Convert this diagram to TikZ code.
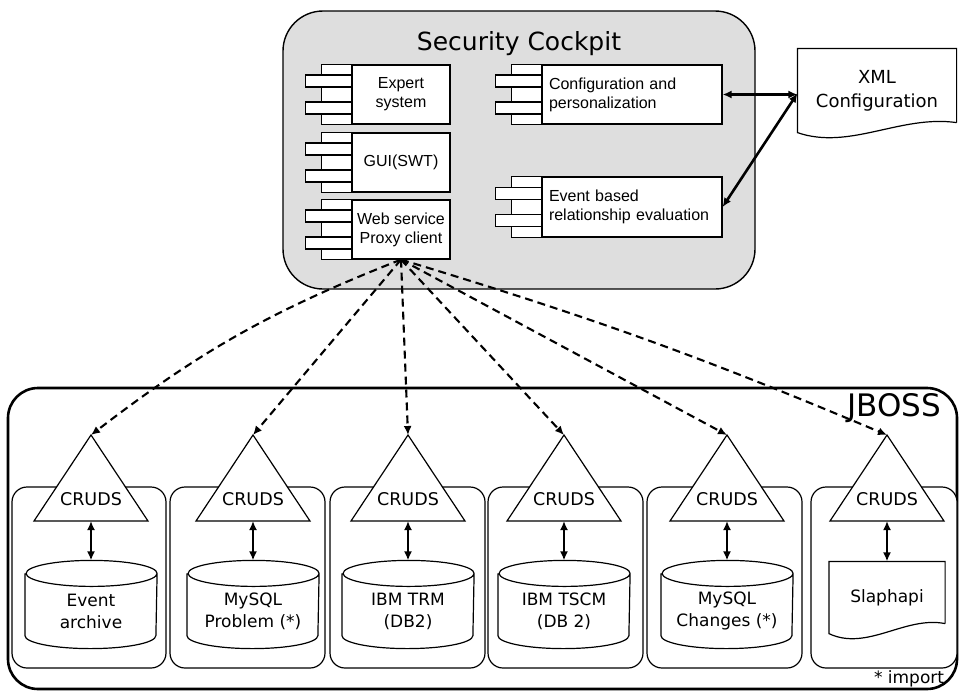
\documentclass[tikz,border=0pt]{standalone}
\usepackage{fontspec}
\setmainfont{DejaVu Sans}
\newfontfamily\arialfont{Liberation Sans}
\usetikzlibrary{calc,arrows.meta}

\definecolor{cockpitgray}{gray}{0.87}

\tikzset{
  box/.style={draw, fill=white, inner sep=3pt, minimum height=59pt,
    font=\arialfont\fontsize{16}{19}\selectfont},
  service/.style={draw, fill=white, rounded corners=15pt, minimum height=181pt},
  store/.style={minimum width=131pt, minimum height=74pt, inner sep=0pt,
    align=center, font=\fontsize{17}{22}\selectfont},
  paper/.style={align=center, inner sep=0pt},
  call/.style={-{Latex[length=9pt,width=8pt]}, line width=2.1pt,
    dash pattern=on 8pt off 5pt},
  link/.style={{Latex[length=9pt,width=8pt]}-{Latex[length=9pt,width=8pt]},
    line width=2.6pt},
}

% component with its two tabs
\newcommand\umlcomp[4][]{%
  \node[box,#1] (#2) at (#3) {#4};
  \draw[fill=white] ($(#2.north west)+(-30,0)$) rectangle (#2.south west);
  \draw[fill=white] ($(#2.west)+(-46,-19.5)$) rectangle ++(46,12);
  \draw[fill=white] ($(#2.west)+(-46,7.5)$) rectangle ++(46,12);
}
% database drum round a store node
\newcommand\drum[1]{%
  \draw (#1.north west) -- ($(#1.south west)+(0,-13)$)
    arc[start angle=180, end angle=360, x radius=65.5pt, y radius=13pt]
    -- (#1.north east)
    arc[start angle=0, end angle=360, x radius=65.5pt, y radius=13pt];
  \coordinate (#1top) at ($(#1.north)+(0,-13)$);
}
% sheet with a wavy lower edge
\newcommand\sheet[3]{%
  \draw ($(#1.south east)+(0,-10)$) -- (#1.north east) -- (#1.north west)
    -- (#1.south west)
    .. controls ($(#1.south west)+(#3,18)$) and ($(#1.south east)+(-#2,-18)$)
    .. ($(#1.south east)+(0,-10)$);
}

\begin{document}
\begin{tikzpicture}[x=1pt, y=-1pt, line width=1.2pt]
\useasboundingbox (0,0) rectangle (961,691);

% Security Cockpit
\node[draw, line width=1.4pt, fill=cockpitgray, rounded corners=40pt,
  minimum width=472pt, minimum height=278pt] (cockpit) at (519,150) {};
\node[font=\fontsize{25}{30}\selectfont] (cockpittitle) at (519,44) {Security Cockpit};

\umlcomp[minimum width=98pt, align=center]{expert}{401,94.5}{Expert\\system}
\umlcomp[minimum width=98pt]{gui}{401,162.5}{GUI(SWT)}
\umlcomp[minimum width=98pt, align=center]{proxy}{401,229.5}{Web service\\Proxy client}
\umlcomp[text width=166pt, inner xsep=7pt, align=left]{config}{632,94.5}{Configuration and\\personalization}
\umlcomp[text width=166pt, inner xsep=7pt, align=left, minimum height=60pt]{event}{632,207}{Event based\\relationship evaluation}

% XML Configuration
\node[paper, minimum width=158pt, minimum height=83pt,
  font=\fontsize{18}{24}\selectfont] (xml) at (877,90.5) {XML\\Configuration};
\sheet{xml}{56}{52}
\coordinate (xmlport) at ($(xml.north west)+(0,45)$);
\draw[link] (config.east) -- (config.east -| xmlport);
\draw[link] (xmlport) -- (event.east);

% JBOSS
\node[draw, line width=2.6pt, rounded corners=30pt,
  minimum width=949pt, minimum height=301pt] (jboss) at (482.5,538.5) {};
\node[font=\fontsize{31}{36}\selectfont, anchor=base east] (jbosstitle) at (945,416) {JBOSS};

\foreach \i/\cx/\bx/\bw in {1/91/89/154, 2/253/247.5/155, 3/408/407.5/155,
    4/564/565.5/155, 5/727/724.5/155, 6/887/884/146}{
  \node[service, minimum width=\bw pt] (srv\i) at (\bx,577.5) {};
  \draw[fill=white] (\cx,435) coordinate (apex\i) -- (\cx+57,521)
    -- (\cx-57,521) -- cycle;
  \node[font=\fontsize{17.5}{20}\selectfont] (cruds\i) at (\cx,499) {CRUDS};
  \coordinate (base\i) at (\cx,521);
}

\node[store] (db1) at (91,611) {Event\\archive};
\node[store] (db2) at (253,611) {MySQL\\Problem (*)};
\node[store] (db3) at (408,611) {IBM TRM\\(DB2)};
\node[store] (db4) at (564,611) {IBM TSCM\\(DB 2)};
\node[store] (db5) at (727,611) {MySQL\\Changes (*)};
\foreach \i in {1,...,5} {\drum{db\i}}

\node[paper, minimum width=115pt, minimum height=71pt,
  font=\fontsize{17}{22}\selectfont] (slap) at (887,597.5) {Slaphapi};
\sheet{slap}{40}{38}
\coordinate (db6top) at (slap.north);

\foreach \i in {1,...,6} {\draw[link] (base\i) -- (db\i top);}

\node[font=\fontsize{17}{20}\selectfont, anchor=base east] (importnote) at (948,683) {* import};

% calls from the proxy client
\draw[call] (proxy.south) to[bend right=8] (apex1);
\foreach \i in {2,...,5} {\draw[call] (proxy.south) -- (apex\i);}
\draw[call] (proxy.south) to[bend left=3] (apex6);
\end{tikzpicture}
\end{document}
